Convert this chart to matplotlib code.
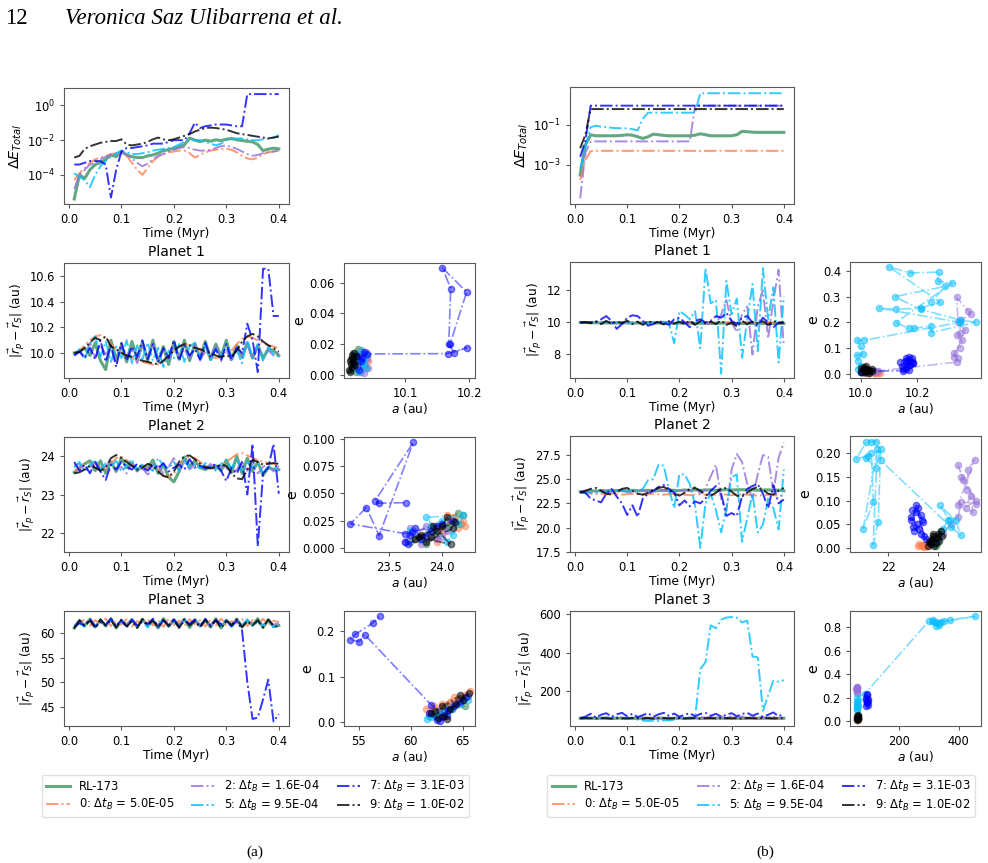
import numpy as np
import matplotlib.pyplot as plt
from matplotlib.ticker import NullLocator, FormatStrFormatter

W, H = 988, 863

t = np.arange(1, 41) / 100

names = ['RL-173', r'0: $\Delta t_B$ = 5.0E-05', r'2: $\Delta t_B$ = 1.6E-04',
         r'5: $\Delta t_B$ = 9.5E-04', r'7: $\Delta t_B$ = 3.1E-03', r'9: $\Delta t_B$ = 1.0E-02']
colors = ['seagreen', 'coral', 'mediumpurple', 'deepskyblue', 'blue', 'black']

# ---------------- (a) energy error, log10 values
ea_rl = [-5.38, -4.0, -4.2, -3.7, -3.4, -3.3, -3.1, -2.85, -2.95, -2.65, -2.85, -2.95, -3.0, -3.0, -2.9, -2.85, -2.75, -2.6, -2.55, -2.46,
         -2.38, -2.27, -1.88, -2.0, -2.08, -2.0, -2.06, -1.98, -2.02, -1.95, -1.9, -1.98, -2.02, -2.06, -2.1, -2.25, -2.6, -2.52, -2.46, -2.5]
ea_0 = [-4.3, -3.9, -3.6, -3.3, -3.1, -3.0, -2.9, -2.8, -2.75, -2.7, -2.9, -3.3, -3.7, -4.0, -3.6, -3.2, -2.95, -2.8, -2.7, -2.65,
        -2.6, -2.6, -2.75, -3.0, -2.85, -2.7, -2.6, -2.55, -2.5, -2.5, -2.55, -2.7, -2.9, -3.05, -3.1, -3.0, -2.8, -2.7, -2.65, -2.6]
ea_2 = [-4.8, -4.0, -3.7, -3.4, -3.3, -3.1, -2.95, -2.85, -2.8, -2.7, -2.85, -3.05, -3.3, -3.5, -3.35, -3.1, -2.9, -2.8, -2.65, -2.55,
        -2.45, -2.4, -2.45, -2.55, -2.6, -2.6, -2.55, -2.45, -2.35, -2.3, -2.4, -2.5, -2.65, -2.8, -2.9, -2.85, -2.75, -2.7, -2.65, -2.6]
ea_5 = [-3.9, -4.1, -4.3, -4.7, -4.0, -3.5, -3.2, -2.95, -2.75, -2.6, -2.7, -2.8, -2.8, -2.75, -2.7, -2.6, -2.55, -2.5, -2.45, -2.4,
        -2.25, -2.1, -2.0, -2.0, -2.0, -2.1, -2.2, -2.3, -2.2, -2.0, -1.95, -1.9, -1.9, -1.95, -2.0, -2.0, -1.95, -1.9, -1.85, -1.7]
ea_7 = [-3.4, -3.4, -3.3, -3.2, -3.2, -3.2, -3.4, -5.3, -3.7, -2.65, -2.45, -2.45, -2.4, -2.35, -2.3, -2.2, -2.2, -2.2, -2.1, -2.0,
        -2.0, -2.0, -1.6, -1.0, -1.3, -1.2, -1.15, -1.1, -1.1, -1.1, -1.15, -1.2, -1.2, 0.65, 0.65, 0.65, 0.65, 0.65, 0.65, 0.65]
ea_9 = [-3.0, -2.9, -2.5, -2.35, -2.25, -2.15, -2.1, -2.05, -2.05, -1.95, -2.25, -2.3, -2.25, -2.2, -2.1, -1.95, -1.85, -1.95, -2.0, -1.95,
        -1.85, -1.75, -1.65, -1.5, -1.4, -1.3, -1.28, -1.3, -1.35, -1.4, -1.5, -1.6, -1.65, -1.7, -1.75, -1.8, -1.85, -1.9, -1.85, -1.8]

# ---------------- (a) planet 1 distance
ra1_rl = [10.00, 10.01, 10.04, 9.98, 10.08, 9.94, 9.87, 10.10, 9.95, 10.06, 9.93, 10.09, 9.96, 10.08, 9.94, 10.10, 9.93, 10.05, 9.91, 10.09,
          9.95, 10.10, 9.94, 10.07, 9.96, 10.09, 9.95, 10.07, 9.97, 10.10, 9.95, 10.06, 9.97, 10.08, 9.96, 10.06, 9.96, 10.03, 10.02, 9.98]
ra1_0 = [10.00, 10.02, 10.06, 10.10, 10.13, 10.14, 10.12, 10.07, 10.03, 10.00, 9.98, 9.96, 9.94, 9.93, 9.92, 9.91, 9.91, 9.93, 9.97, 10.01,
         10.05, 10.07, 10.07, 10.05, 10.02, 9.99, 9.97, 9.96, 9.97, 9.99, 10.02, 10.07, 10.11, 10.13, 10.12, 10.10, 10.08, 10.06, 10.05, 10.04]
ra1_2 = [9.99, 10.02, 9.97, 10.08, 9.96, 10.06, 9.99, 10.04, 9.93, 10.07, 9.98, 10.03, 9.92, 10.05, 9.96, 10.07, 9.94, 10.02, 9.95, 10.05,
         9.97, 10.03, 9.96, 10.08, 9.94, 10.02, 9.97, 10.06, 9.95, 10.03, 9.93, 10.05, 9.96, 10.08, 9.95, 10.04, 9.97, 10.02, 9.98, 10.00]
ra1_5 = [9.98, 10.03, 9.95, 10.07, 10.13, 9.97, 10.09, 9.93, 10.05, 9.96, 10.10, 9.92, 10.06, 9.95, 10.08, 9.94, 10.04, 9.89, 10.02, 9.96,
         10.07, 9.93, 10.05, 10.08, 9.95, 10.06, 9.93, 10.04, 9.97, 10.07, 9.95, 10.02, 9.92, 10.10, 9.96, 10.07, 9.94, 10.05, 9.99, 9.97]
ra1_7 = [9.98, 10.01, 9.96, 10.04, 9.95, 10.10, 9.93, 10.06, 9.89, 10.08, 9.94, 10.05, 9.97, 10.10, 9.95, 10.07, 9.93, 10.04, 9.96, 10.10,
         9.94, 10.06, 9.98, 10.03, 9.95, 10.08, 9.96, 10.03, 9.94, 10.07, 9.95, 10.04, 10.00, 10.23, 10.10, 9.85, 10.66, 10.66, 10.29, 10.29]
ra1_9 = [10.00, 10.01, 10.04, 10.08, 10.12, 10.10, 10.13, 10.05, 10.03, 10.00, 9.98, 9.97, 9.95, 9.94, 9.93, 9.92, 9.91, 9.94, 9.98, 10.02,
         10.05, 10.07, 10.06, 10.04, 10.03, 10.01, 10.00, 9.98, 9.97, 9.98, 9.97, 10.02, 10.09, 10.13, 10.15, 10.13, 10.09, 10.06, 10.04, 10.01]

# ---------------- (a) planet 2 distance
ra2_rl = [23.58, 23.70, 23.80, 23.88, 23.62, 23.88, 23.55, 23.85, 23.60, 23.95, 23.70, 23.82, 23.62, 23.75, 23.68, 23.90, 23.55, 23.78, 23.45, 23.33,
          23.60, 23.98, 23.72, 23.88, 23.70, 23.65, 23.72, 23.75, 23.62, 23.90, 23.58, 24.00, 23.55, 23.95, 23.60, 23.85, 23.50, 23.70, 23.65, 23.65]
ra2_0 = [23.60, 23.70, 23.80, 23.85, 23.80, 23.72, 23.65, 23.80, 23.95, 23.98, 23.90, 23.78, 23.70, 23.65, 23.68, 23.72, 23.65, 23.50, 23.45, 23.55,
         23.75, 23.92, 23.98, 23.95, 23.85, 23.75, 23.68, 23.70, 23.78, 23.85, 23.95, 24.05, 24.08, 24.02, 23.95, 23.90, 23.85, 23.82, 23.80, 23.78]
ra2_2 = [23.75, 23.80, 23.62, 23.70, 23.85, 23.60, 23.75, 23.88, 23.65, 23.72, 23.55, 23.80, 23.60, 23.68, 23.52, 23.65, 23.75, 23.55, 23.72, 23.95,
         23.60, 23.85, 23.65, 23.78, 23.70, 23.68, 23.80, 23.62, 23.75, 23.70, 23.52, 23.65, 23.85, 23.62, 23.78, 23.55, 23.72, 23.80, 23.60, 23.75]
ra2_5 = [23.70, 23.85, 23.60, 23.78, 23.90, 23.65, 23.82, 23.72, 23.88, 23.60, 23.75, 23.92, 23.65, 23.80, 23.70, 23.62, 23.95, 23.75, 23.68, 23.85,
         23.62, 23.90, 23.70, 23.78, 23.68, 23.82, 23.72, 23.65, 23.80, 23.90, 23.68, 23.95, 23.60, 23.85, 23.72, 23.80, 23.55, 23.75, 23.70, 23.62]
ra2_7 = [23.85, 23.62, 23.78, 23.55, 23.85, 23.60, 23.38, 23.78, 23.65, 23.85, 23.72, 23.65, 23.80, 23.70, 23.62, 23.78, 23.68, 23.82, 23.60, 23.70,
         23.78, 23.65, 23.92, 23.70, 23.75, 23.68, 23.72, 23.80, 23.62, 23.35, 23.70, 23.55, 23.85, 23.00, 24.32, 21.65, 23.55, 23.70, 24.32, 23.02]
ra2_9 = [23.55, 23.58, 23.65, 23.75, 23.70, 23.62, 23.70, 23.95, 24.03, 23.95, 23.85, 23.75, 23.65, 23.70, 23.80, 23.75, 23.60, 23.48, 23.45, 23.60,
         23.85, 24.00, 24.02, 23.92, 23.80, 23.72, 23.68, 23.72, 23.78, 23.75, 23.55, 23.42, 23.40, 23.65, 23.90, 23.85, 23.78, 23.80, 23.82, 23.80]

# ---------------- (a) planet 3 distance
ra3_rl = [61.0, 62.5, 61.5, 62.8, 61.2, 62.6, 61.4, 62.9, 61.0, 62.5, 61.6, 62.7, 61.2, 62.8, 61.5, 62.4, 61.0, 62.9, 61.3, 62.6,
          61.5, 62.8, 61.1, 62.7, 61.4, 62.5, 61.2, 62.9, 61.0, 62.6, 61.5, 62.8, 61.2, 62.4, 61.6, 62.9, 61.1, 62.7, 61.3, 61.5]
ra3_0 = [61.2, 62.0, 62.8, 61.5, 62.6, 61.8, 62.9, 61.4, 62.5, 61.7, 62.8, 61.3, 62.4, 61.9, 62.7, 61.5, 62.6, 61.2, 62.9, 61.6,
         62.5, 61.4, 62.8, 61.8, 62.6, 61.3, 62.7, 61.5, 62.9, 61.6, 62.4, 61.9, 62.8, 61.4, 62.6, 61.5, 62.9, 61.7, 62.5, 62.2]
ra3_2 = [61.5, 62.5, 61.8, 62.8, 61.4, 62.2, 61.9, 62.7, 61.5, 62.4, 61.7, 62.8, 61.3, 62.5, 61.9, 62.6, 61.6, 62.8, 61.4, 62.3,
         61.8, 62.7, 61.5, 62.6, 61.7, 62.4, 61.3, 62.8, 61.6, 62.5, 61.8, 62.7, 61.4, 62.6, 61.9, 62.3, 61.5, 62.8, 61.7, 62.0]
ra3_5 = [61.5, 62.0, 61.2, 62.6, 61.3, 62.4, 61.6, 62.7, 61.2, 62.5, 61.4, 62.8, 61.5, 62.3, 61.1, 62.6, 61.6, 62.7, 61.3, 62.4,
         61.2, 62.8, 61.5, 62.5, 61.7, 62.6, 61.3, 62.4, 61.5, 62.7, 61.2, 62.5, 61.6, 62.8, 61.4, 62.3, 61.5, 62.6, 61.2, 61.6]
ra3_7 = [61.2, 62.0, 61.5, 62.8, 61.3, 62.2, 61.6, 62.9, 61.4, 62.6, 61.1, 62.7, 61.5, 62.3, 61.8, 62.9, 61.2, 62.5, 61.6, 62.8,
         61.3, 62.4, 61.9, 62.7, 61.2, 62.9, 61.5, 62.6, 61.8, 62.2, 61.4, 62.5, 60.5, 50.0, 42.5, 42.8, 46.5, 50.5, 42.0, 43.5]
ra3_9 = [60.9, 62.6, 61.4, 62.5, 61.0, 62.8, 61.5, 62.6, 61.1, 62.7, 61.3, 62.4, 61.0, 62.8, 61.6, 62.5, 61.2, 62.7, 61.4, 62.6,
         61.0, 62.8, 61.5, 62.4, 61.2, 62.7, 61.3, 62.6, 61.0, 62.5, 61.6, 62.8, 61.2, 62.4, 61.5, 62.6, 61.1, 62.7, 61.4, 61.3]

# ---------------- (a) a-e planes
aa1_rl = [10.015, 10.02, 10.025, 10.03, 10.035, 10.022, 10.028, 10.018, 10.032, 10.026, 10.038, 10.02]
ea1_rl = [0.003, 0.008, 0.012, 0.015, 0.005, 0.002, 0.010, 0.014, 0.007, 0.017, 0.011, 0.004]
aa1_0 = [10.025, 10.03, 10.04, 10.035, 10.042, 10.028, 10.038, 10.033]
ea1_0 = [0.010, 0.015, 0.012, 0.006, 0.009, 0.016, 0.004, 0.013]
aa1_2 = [10.03, 10.035, 10.04, 10.042, 10.038, 10.033, 10.028, 10.036]
ea1_2 = [0.002, 0.006, 0.010, 0.004, 0.015, 0.008, 0.012, 0.001]
aa1_5 = [10.02, 10.025, 10.03, 10.035, 10.04, 10.028, 10.033, 10.022, 10.038, 10.026]
ea1_5 = [0.005, 0.011, 0.016, 0.009, 0.013, 0.002, 0.007, 0.014, 0.004, 0.010]
aa1_7 = [10.02, 10.025, 10.03, 10.035, 10.028, 10.032, 10.04, 10.166, 10.196, 10.176, 10.168, 10.171, 10.158, 10.196, 10.17]
ea1_7 = [0.006, 0.012, 0.009, 0.015, 0.003, 0.011, 0.0135, 0.0137, 0.0176, 0.0143, 0.0202, 0.0561, 0.0696, 0.0539, 0.020]
aa1_9 = [10.012, 10.015, 10.018, 10.02, 10.014, 10.017, 10.022, 10.013, 10.019, 10.016, 10.021, 10.015]
ea1_9 = [0.003, 0.007, 0.011, 0.014, 0.009, 0.005, 0.012, 0.002, 0.008, 0.013, 0.006, 0.010]

aa2_rl = [23.7, 23.8, 23.9, 24.0, 24.1, 24.2, 23.85, 23.95, 24.05, 24.15, 23.75, 24.18]
ea2_rl = [0.005, 0.010, 0.015, 0.020, 0.025, 0.030, 0.003, 0.012, 0.018, 0.032, 0.008, 0.022]
aa2_0 = [23.8, 23.9, 24.0, 24.1, 24.2, 23.95, 24.05, 24.15, 24.22]
ea2_0 = [0.010, 0.020, 0.015, 0.028, 0.025, 0.005, 0.030, 0.018, 0.020]
aa2_2 = [23.65, 23.75, 23.85, 23.95, 24.05, 23.7, 23.8, 24.0]
ea2_2 = [0.005, 0.012, 0.020, 0.008, 0.015, 0.018, 0.003, 0.010]
aa2_5 = [23.7, 23.8, 23.9, 24.0, 24.1, 24.2, 23.85, 24.05, 24.15]
ea2_5 = [0.015, 0.008, 0.020, 0.025, 0.012, 0.030, 0.028, 0.005, 0.022]
aa2_7 = [23.65, 23.7, 23.75, 23.8, 23.9, 24.0, 23.68, 23.85, 23.95, 24.1, 23.72, 23.65, 23.14, 23.29, 23.41, 23.73, 23.37, 23.41, 23.66]
ea2_7 = [0.005, 0.012, 0.018, 0.008, 0.015, 0.022, 0.003, 0.010, 0.020, 0.025, 0.014, 0.013, 0.022, 0.037, 0.011, 0.097, 0.043, 0.041, 0.0415]
aa2_9 = [23.75, 23.8, 23.9, 24.0, 24.05, 24.1, 23.85, 23.95, 24.12, 23.78, 24.08, 23.92]
ea2_9 = [0.008, 0.012, 0.010, 0.020, 0.028, 0.018, 0.005, 0.015, 0.024, 0.010, 0.003, 0.020]

aa3_rl = [61.8, 62.5, 63.2, 63.8, 64.4, 65.0, 65.5, 62.2, 64.0, 65.2]
ea3_rl = [0.015, 0.025, 0.030, 0.038, 0.045, 0.050, 0.060, 0.020, 0.030, 0.035]
aa3_0 = [61.5, 62.3, 63.0, 63.8, 64.5, 65.2, 65.7, 62.0, 64.2]
ea3_0 = [0.030, 0.035, 0.040, 0.045, 0.050, 0.060, 0.068, 0.025, 0.055]
aa3_2 = [62.0, 62.8, 63.5, 64.2, 65.0, 65.5, 63.0]
ea3_2 = [0.020, 0.025, 0.030, 0.040, 0.050, 0.058, 0.015]
aa3_5 = [61.6, 62.4, 63.2, 64.0, 64.8, 65.5, 62.0, 63.6]
ea3_5 = [0.008, 0.015, 0.020, 0.030, 0.040, 0.050, 0.012, 0.025]
aa3_7 = [61.8, 62.5, 63.0, 63.6, 64.2, 64.8, 65.3, 62.8, 63.5, 62.0, 55.6, 55.06, 54.2, 54.7, 56.4, 57.1]
ea3_7 = [0.020, 0.005, 0.012, 0.028, 0.035, 0.045, 0.055, 0.003, 0.015, 0.038, 0.192, 0.177, 0.181, 0.193, 0.218, 0.234]
aa3_9 = [62.0, 62.6, 63.2, 63.8, 64.4, 65.0, 65.6, 62.4, 63.5, 64.8, 63.0]
ea3_9 = [0.020, 0.010, 0.015, 0.030, 0.040, 0.050, 0.065, 0.025, 0.008, 0.060, 0.035]

# ---------------- (b) energy error, log10 values
eb_rl = [-3.5, -2.0, -1.5, -1.55, -1.55, -1.55, -1.55, -1.55, -1.53, -1.5, -1.52, -1.6, -1.68, -1.6, -1.47, -1.5, -1.53, -1.55, -1.55, -1.55,
         -1.55, -1.55, -1.52, -1.45, -1.5, -1.55, -1.55, -1.55, -1.55, -1.55, -1.5, -1.33, -1.35, -1.37, -1.38, -1.38, -1.38, -1.38, -1.38, -1.38]
eb_0 = [-3.75, -2.75, -2.32] + [-2.3] * 37
eb_2 = [-4.67, -2.4, -1.85] + [-1.83] * 19 + [-0.05] * 18
eb_5 = [-3.2, -2.1, -1.12, -1.05, -1.1, -1.12, -1.15, -1.17, -1.18, -1.18, -1.22, -1.28, -0.7] + [-0.4] * 10 + [0.57] * 17
eb_7 = [-2.6, -1.8] + [-0.05] * 38
eb_9 = [-2.17, -1.5] + [-0.22] * 38

# ---------------- (b) planet 1 distance
rb1_rl = [10.0, 10.0, 9.99, 9.98, 9.97, 9.98, 9.97, 9.96, 9.97, 9.98, 9.96, 9.97, 9.96, 9.95, 9.96, 9.97, 9.95, 9.96, 9.95, 9.96,
          9.95, 9.96, 9.95, 9.96, 9.95, 9.94, 9.95, 9.96, 9.95, 9.94, 9.95, 9.94, 9.95, 9.94, 9.95, 9.94, 9.95, 9.94, 9.95, 9.94]
rb1_0 = [10.02, 10.0, 10.03, 9.98, 10.04, 9.97, 10.03, 9.98, 10.04, 9.97, 10.02, 9.99, 10.03, 9.97, 10.04, 9.98, 10.02, 9.97, 10.03, 9.99,
         10.04, 9.97, 10.02, 9.98, 10.03, 9.99, 10.04, 9.97, 10.02, 9.98, 10.03, 9.97, 10.02, 9.99, 10.04, 9.97, 10.03, 9.98, 10.02, 9.99]
rb1_2 = [10.0, 10.02, 9.98, 10.03, 9.97, 10.02, 9.98, 10.03, 9.97, 10.02, 9.95, 10.05, 9.96, 10.04, 9.98, 10.02, 9.97, 10.05, 9.95, 10.03,
         9.97, 10.05, 9.95, 10.1, 9.9, 9.95, 9.9, 10.5, 11.4, 10.0, 9.4, 10.5, 11.0, 8.0, 11.0, 12.0, 9.0, 11.4, 13.3, 8.5]
rb1_5 = [10.0, 10.01, 9.98, 10.0, 10.02, 9.99, 10.0, 9.97, 10.03, 10.0, 9.98, 10.02, 10.0, 9.97, 10.03, 9.99, 10.05, 9.95,
         8.7, 10.7, 10.5, 10.2, 10.7, 8.4, 13.4, 11.2, 11.4, 6.8, 12.6, 10.5, 11.5, 7.8, 10.2, 12.4, 8.2, 13.4, 10.2, 12.2, 7.5, 11.6]
rb1_7 = [10.0, 10.0, 10.02, 10.05, 10.2, 10.4, 10.1, 9.6, 9.9, 10.3, 10.45, 10.4, 10.1, 9.8, 9.9, 10.1, 10.0, 9.85, 10.2, 10.3,
         10.0, 9.7, 10.1, 10.2, 10.0, 10.1, 10.4, 10.3, 10.6, 10.1, 9.9, 10.3, 10.4, 10.0, 9.8, 10.3, 10.0, 9.7, 10.0, 10.0]
rb1_9 = [10.0, 10.02, 9.95, 10.05, 9.9, 10.1, 9.92, 10.08, 9.95, 10.12, 9.9, 10.05, 9.85, 10.1, 9.95, 10.03, 9.88, 10.08, 9.92, 10.05,
         9.9, 10.1, 9.85, 10.08, 9.95, 10.05, 9.9, 10.12, 9.85, 10.0, 9.75, 10.1, 9.9, 10.05, 9.95, 10.08, 9.85, 10.1, 9.95, 10.0]

# ---------------- (b) planet 2 distance
rb2_rl = [23.7, 23.75, 23.8, 23.78, 23.82, 23.8, 23.85, 23.8, 23.82, 23.78, 23.85, 23.8, 23.82, 23.85, 23.8, 23.85, 23.82, 23.88, 23.85, 23.82,
          23.88, 23.85, 23.9, 23.85, 23.88, 23.9, 23.85, 23.88, 23.92, 23.88, 23.9, 23.92, 23.88, 23.9, 23.85, 23.88, 23.9, 23.85, 23.88, 23.8]
rb2_0 = [23.6, 23.55, 23.5, 23.45, 23.5, 23.45, 23.5, 23.45, 23.4, 23.45, 23.5, 23.45, 23.4, 23.45, 23.5, 23.45, 23.4, 23.45, 23.5, 23.45,
         23.4, 23.35, 23.4, 23.45, 23.4, 23.35, 23.4, 23.45, 23.4, 23.35, 23.4, 23.45, 23.4, 23.35, 23.3, 23.35, 23.4, 23.35, 23.3, 23.3]
rb2_2 = [23.7, 23.8, 23.6, 23.75, 23.9, 23.7, 23.6, 23.8, 23.9, 23.7, 23.6, 23.8, 23.9, 23.7, 23.65, 23.8, 23.9, 23.7, 23.6, 23.8,
         23.9, 23.8, 24.2, 23.5, 24.0, 25.3, 26.5, 23.0, 21.7, 26.0, 27.6, 26.8, 24.5, 23.0, 25.5, 27.5, 27.3, 23.6, 27.2, 28.8]
rb2_5 = [23.6, 23.65, 23.7, 23.6, 23.65, 23.7, 23.8, 23.9, 23.8, 23.7, 23.85, 23.8, 24.0, 24.9, 25.0, 26.5, 26.4, 24.0, 22.0, 25.5,
         25.5, 24.5, 22.3, 17.9, 22.5, 23.5, 21.8, 19.5, 22.0, 25.2, 25.5, 18.5, 21.0, 23.5, 19.5, 20.3, 23.0, 22.0, 19.8, 26.0]
rb2_7 = [23.7, 23.6, 23.0, 22.8, 22.6, 23.5, 24.0, 23.2, 22.5, 21.3, 22.3, 21.1, 23.0, 23.5, 23.8, 24.2, 24.4, 24.0, 23.6, 22.3,
         22.8, 22.2, 22.7, 22.5, 23.0, 23.8, 24.3, 23.5, 21.2, 21.5, 21.2, 23.2, 24.0, 24.3, 24.5, 23.5, 22.0, 24.4, 22.5, 22.9]
rb2_9 = [23.6, 23.8, 24.0, 24.1, 23.8, 23.5, 23.4, 23.7, 24.0, 24.1, 23.8, 23.5, 23.4, 23.6, 23.9, 24.1, 24.2, 23.9, 23.5, 23.3,
         23.6, 24.0, 24.1, 23.8, 23.4, 23.3, 23.6, 24.0, 24.1, 23.7, 23.3, 23.2, 23.6, 24.0, 24.2, 23.9, 23.5, 23.4, 23.8, 24.1]

# ---------------- (b) planet 3 distance
rb3_rl = [62, 61, 63, 61, 62, 63, 61, 62, 63, 61, 62, 61, 63, 62, 61, 63, 62, 61, 62, 63,
          61, 62, 63, 61, 62, 61, 63, 62, 61, 63, 62, 61, 62, 63, 61, 62, 63, 61, 62, 62]
rb3_0 = [62, 63, 61, 62, 63, 61, 62, 61, 63, 62, 61, 63, 62, 61, 62, 63, 61, 62, 63, 61,
         62, 61, 63, 62, 61, 63, 62, 61, 62, 63, 61, 62, 63, 61, 62, 61, 63, 62, 61, 62]
rb3_2 = [62, 63, 61, 64, 60, 65, 62, 66, 60, 64, 58, 66, 56, 64, 55, 63, 54, 62, 56, 64,
         60, 66, 62, 68, 64, 70, 60, 72, 58, 74, 62, 72, 60, 70, 64, 68, 62, 70, 60, 66]
rb3_5 = [62, 60, 62, 58, 62, 60, 62, 58, 60, 62, 58, 55, 50, 48, 50, 48, 52, 50, 55, 58,
         60, 62, 62, 315, 350, 540, 525, 570, 580, 583, 580, 555, 565, 380, 375, 100, 180, 255, 250, 258]
rb3_7 = [62, 70, 85, 65, 80, 88, 70, 82, 90, 72, 85, 68, 78, 88, 70, 82, 90, 75, 86, 70,
         80, 88, 72, 84, 90, 75, 85, 70, 80, 88, 72, 84, 90, 75, 86, 70, 80, 92, 72, 85]
rb3_9 = [61, 63, 62, 61, 63, 62, 60, 63, 62, 61, 63, 62, 61, 63, 60, 62, 63, 61, 62, 63,
         61, 62, 63, 60, 62, 63, 61, 62, 63, 61, 62, 60, 63, 62, 61, 63, 62, 61, 62, 62]

# ---------------- (b) a-e planes
ab1_rl = [10.00, 10.01, 10.02, 10.03, 10.01, 10.02, 10.04, 10.02, 10.03, 10.01, 10.02, 10.05, 10.03, 10.02]
eb1_rl = [0.005, 0.010, 0.008, 0.012, 0.015, 0.004, 0.010, 0.018, 0.006, 0.012, 0.020, 0.008, 0.014, 0.010]
ab1_0 = [10.01, 10.03, 10.05, 10.06, 10.04, 10.02, 10.05, 10.07, 10.03, 10.06]
eb1_0 = [0.002, 0.004, 0.003, 0.006, 0.008, 0.005, 0.002, 0.004, 0.007, 0.003]
ab1_2 = [10.01, 10.03, 10.02, 10.04, 10.05, 10.06, 10.34, 10.345, 10.33, 10.35, 10.36, 10.34, 10.35, 10.356, 10.39, 10.38, 10.34, 10.345, 10.37, 10.33]
eb1_2 = [0.005, 0.010, 0.015, 0.008, 0.012, 0.010, 0.045, 0.059, 0.080, 0.100, 0.130, 0.150, 0.160, 0.209, 0.233, 0.244, 0.298, 0.200, 0.170, 0.065]
ab1_5 = [10.00, 10.01, 9.99, 10.02, 10.0, 9.99, 9.986, 10.007, 10.0, 9.988, 10.013, 10.35, 10.066, 10.125, 10.212, 10.282,
         10.1, 10.176, 10.278, 10.272, 10.324, 10.124, 10.172, 10.188, 10.25, 10.25, 10.407, 10.35, 10.213, 10.12, 10.30, 10.25]
eb1_5 = [0.005, 0.010, 0.020, 0.012, 0.030, 0.050, 0.072, 0.075, 0.107, 0.130, 0.130, 0.200, 0.255, 0.251, 0.255, 0.278,
         0.416, 0.392, 0.396, 0.360, 0.353, 0.199, 0.176, 0.176, 0.186, 0.160, 0.200, 0.210, 0.250, 0.300, 0.340, 0.280]
ab1_7 = [10.00, 10.01, 10.15, 10.16, 10.17, 10.18, 10.16, 10.14, 10.17, 10.185, 10.16, 10.17, 10.145, 10.18, 10.165, 10.17, 10.16, 10.175, 10.15, 10.185]
eb1_7 = [0.005, 0.008, 0.012, 0.020, 0.035, 0.050, 0.060, 0.045, 0.065, 0.040, 0.025, 0.055, 0.030, 0.062, 0.045, 0.015, 0.050, 0.035, 0.020, 0.040]
ab1_9 = [10.00, 10.01, 10.02, 10.03, 10.01, 10.02, 10.04, 10.02, 10.03, 10.01, 10.03, 10.02, 10.00, 10.04]
eb1_9 = [0.005, 0.012, 0.020, 0.015, 0.025, 0.008, 0.018, 0.028, 0.010, 0.020, 0.004, 0.016, 0.022, 0.012]

ab2_rl = [23.6, 23.8, 24.0, 23.9, 23.7, 24.1, 23.85, 24.0, 23.75, 24.1, 23.9, 23.95]
eb2_rl = [0.010, 0.020, 0.025, 0.005, 0.015, 0.030, 0.008, 0.020, 0.012, 0.035, 0.018, 0.010]
ab2_0 = [23.2, 23.3, 23.4, 23.5, 23.35, 23.45, 23.6, 23.25, 23.55, 23.4]
eb2_0 = [0.005, 0.004, 0.006, 0.005, 0.007, 0.003, 0.006, 0.008, 0.004, 0.005]
ab2_2 = [23.8, 24.0, 24.2, 24.5, 24.8, 24.93, 25.53, 24.8, 25.0, 25.16, 25.2, 25.47, 24.8, 25.4, 25.3, 25.1, 25.5, 24.9]
eb2_2 = [0.010, 0.020, 0.030, 0.050, 0.066, 0.097, 0.094, 0.175, 0.143, 0.122, 0.165, 0.187, 0.090, 0.075, 0.110, 0.085, 0.100, 0.150]
ab2_5 = [23.8, 24.0, 24.2, 24.4, 24.47, 24.07, 24.7, 24.9, 24.5, 21.7, 21.53, 21.33, 21.13, 20.73, 21.2, 21.33, 21.4, 21.0, 21.56, 21.4, 21.6, 21.7, 21.5, 21.1]
eb2_5 = [0.010, 0.020, 0.040, 0.060, 0.059, 0.090, 0.059, 0.027, 0.045, 0.185, 0.225, 0.225, 0.225, 0.189, 0.194, 0.200, 0.097, 0.041, 0.210, 0.006, 0.055, 0.210, 0.170, 0.190]
ab2_7 = [23.7, 23.5, 23.3, 23.0, 22.9, 23.1, 23.2, 22.95, 23.3, 23.4, 23.05, 23.15, 22.9, 23.25, 23.45, 23.1, 23.35]
eb2_7 = [0.010, 0.020, 0.030, 0.045, 0.060, 0.075, 0.085, 0.080, 0.070, 0.055, 0.035, 0.050, 0.065, 0.040, 0.025, 0.090, 0.060]
ab2_9 = [23.6, 23.7, 23.8, 23.9, 24.0, 23.75, 23.85, 24.1, 23.65, 23.95, 24.05, 23.8, 23.7, 24.15]
eb2_9 = [0.005, 0.015, 0.025, 0.010, 0.030, 0.020, 0.005, 0.035, 0.012, 0.022, 0.015, 0.030, 0.008, 0.025]

ab3_rl = [61, 62, 63, 62.5]
eb3_rl = [0.02, 0.03, 0.04, 0.025]
ab3_0 = [62, 63, 61]
eb3_0 = [0.01, 0.02, 0.015]
ab3_2 = [58, 59, 60, 58.5, 59.5, 60.5, 57.5, 59]
eb3_2 = [0.25, 0.27, 0.29, 0.28, 0.26, 0.24, 0.27, 0.29]
ab3_5 = [60, 61, 59, 62, 60, 58, 61, 63, 59, 85, 300, 320, 335, 315, 350, 330, 370, 455, 340, 325, 310]
eb3_5 = [0.09, 0.10, 0.12, 0.13, 0.15, 0.14, 0.16, 0.18, 0.20, 0.23, 0.85, 0.84, 0.82, 0.86, 0.85, 0.83, 0.86, 0.89, 0.84, 0.81, 0.85]
ab3_7 = [90, 92, 95, 93, 91, 96, 94, 92, 95, 90]
eb3_7 = [0.13, 0.16, 0.19, 0.22, 0.20, 0.17, 0.15, 0.23, 0.14, 0.18]
ab3_9 = [60, 61, 62, 63, 61.5, 62.5, 60.5, 63.5]
eb3_9 = [0.01, 0.03, 0.05, 0.02, 0.04, 0.015, 0.045, 0.03]

TICK = 8.3
LAB = 8.8
RLAB = r'$|\vec{r}_p - \vec{r}_S|$ (au)'

fig = plt.figure(figsize=(W / 100, H / 100), dpi=100)


def box(l, tp, r, b):
    return [l / W, 1 - b / H, (r - l) / W, (b - tp) / H]


def style(ax):
    for s in ax.spines.values():
        s.set_color('0.35')
        s.set_linewidth(0.8)
    ax.tick_params(labelsize=TICK, length=3, width=0.8, color='0.35')


def line_style(i):
    if i == 0:
        return dict(ls='-', lw=2.2, alpha=0.75)
    return dict(ls='-.', lw=1.4, alpha=0.8)


def time_axes(rect, series, ylim, yticks, title=None, ylabel=RLAB, log=False):
    ax = fig.add_axes(box(*rect))
    for i, (y, c) in enumerate(zip(series, colors)):
        y = 10 ** np.array(y) if log else y
        ax.plot(t, y, color=c, label=names[i], **line_style(i))
    if log:
        ax.set_yscale('log')
    ax.set_xlim(-0.0095, 0.4195)
    ax.set_ylim(*ylim)
    ax.set_xticks([0.0, 0.1, 0.2, 0.3, 0.4])
    ax.set_yticks(yticks)
    if log:
        ax.yaxis.set_minor_locator(NullLocator())
    ax.set_xlabel('Time (Myr)', fontsize=LAB, labelpad=1)
    ax.set_ylabel(ylabel, fontsize=LAB + (1.5 if log else 0), labelpad=2)
    if title:
        ax.set_title(title, fontsize=10, pad=5)
    style(ax)
    return ax


def ae_axes(rect, a_list, e_list, xlim, ylim, xticks, yticks, yfmt, xfmt=None):
    ax = fig.add_axes(box(*rect))
    for i, (a, e, c) in enumerate(zip(a_list, e_list, colors)):
        ls = '-' if i == 0 else '-.'
        ax.plot(a, e, ls=ls, marker='o', color=c, alpha=0.5, ms=4.5, lw=1.2)
    ax.set_xlim(*xlim)
    ax.set_ylim(*ylim)
    ax.set_xticks(xticks)
    ax.set_yticks(yticks)
    ax.yaxis.set_major_formatter(FormatStrFormatter(yfmt))
    if xfmt:
        ax.xaxis.set_major_formatter(FormatStrFormatter(xfmt))
    ax.set_xlabel(r'$a$ (au)', fontsize=LAB, labelpad=1)
    ax.set_ylabel('e', fontsize=LAB + 1.5, labelpad=2)
    style(ax)
    return ax


# ---------------- panel (a)
time_axes((64, 88, 289, 204), [ea_rl, ea_0, ea_2, ea_5, ea_7, ea_9], (10 ** -5.67, 10 ** 1.0),
          [1e-4, 1e-2, 1e0], ylabel=r'$\Delta E_{Total}$', log=True)
time_axes((64, 263, 289, 378), [ra1_rl, ra1_0, ra1_2, ra1_5, ra1_7, ra1_9], (9.804, 10.705),
          [10.0, 10.2, 10.4, 10.6], title='Planet 1')
time_axes((64, 437, 289, 552), [ra2_rl, ra2_0, ra2_2, ra2_5, ra2_7, ra2_9], (21.5, 24.5),
          [22, 23, 24], title='Planet 2')
time_axes((64, 611, 289, 726), [ra3_rl, ra3_0, ra3_2, ra3_5, ra3_7, ra3_9], (41.08, 64.46),
          [45, 50, 55, 60], title='Planet 3')
ae_axes((344, 263, 475, 378), [aa1_rl, aa1_0, aa1_2, aa1_5, aa1_7, aa1_9], [ea1_rl, ea1_0, ea1_2, ea1_5, ea1_7, ea1_9],
        (10.004, 10.209), (-0.0022, 0.0728), [10.1, 10.2], [0, 0.02, 0.04, 0.06], '%.2f', '%.1f')
ae_axes((344, 437, 475, 552), [aa2_rl, aa2_0, aa2_2, aa2_5, aa2_7, aa2_9], [ea2_rl, ea2_0, ea2_2, ea2_5, ea2_7, ea2_9],
        (23.08, 24.31), (-0.004, 0.102), [23.5, 24.0], [0, 0.025, 0.05, 0.075, 0.1], '%.3f', '%.1f')
ae_axes((344, 611, 475, 726), [aa3_rl, aa3_0, aa3_2, aa3_5, aa3_7, aa3_9], [ea3_rl, ea3_0, ea3_2, ea3_5, ea3_7, ea3_9],
        (53.6, 66.2), (-0.008, 0.244), [55, 60, 65], [0, 0.1, 0.2], '%.1f')

# ---------------- panel (b)
axb = time_axes((570, 87, 794, 204), [eb_rl, eb_0, eb_2, eb_5, eb_7, eb_9], (10 ** -4.95, 10 ** 0.88),
                [1e-3, 1e-1], ylabel=r'$\Delta E_{Total}$', log=True)
time_axes((570, 262, 794, 378), [rb1_rl, rb1_0, rb1_2, rb1_5, rb1_7, rb1_9], (6.53, 13.78),
          [8, 10, 12], title='Planet 1')
time_axes((570, 436, 794, 552), [rb2_rl, rb2_0, rb2_2, rb2_5, rb2_7, rb2_9], (17.47, 29.47),
          [17.5, 20.0, 22.5, 25.0, 27.5], title='Planet 2')
time_axes((570, 611, 794, 726), [rb3_rl, rb3_0, rb3_2, rb3_5, rb3_7, rb3_9], (22, 614),
          [200, 400, 600], title='Planet 3')
ae_axes((850, 262, 981, 378), [ab1_rl, ab1_0, ab1_2, ab1_5, ab1_7, ab1_9], [eb1_rl, eb1_0, eb1_2, eb1_5, eb1_7, eb1_9],
        (9.962, 10.426), (-0.017, 0.435), [10.0, 10.2], [0, 0.1, 0.2, 0.3, 0.4], '%.1f', '%.1f')
ae_axes((850, 436, 981, 552), [ab2_rl, ab2_0, ab2_2, ab2_5, ab2_7, ab2_9], [eb2_rl, eb2_0, eb2_2, eb2_5, eb2_7, eb2_9],
        (20.47, 25.72), (-0.0085, 0.2367), [22, 24], [0, 0.05, 0.1, 0.15, 0.2], '%.2f')
ae_axes((850, 611, 981, 726), [ab3_rl, ab3_0, ab3_2, ab3_5, ab3_7, ab3_9], [eb3_rl, eb3_0, eb3_2, eb3_5, eb3_7, eb3_9],
        (36, 475), (-0.042, 0.936), [200, 400], [0, 0.2, 0.4, 0.6, 0.8], '%.1f')

# ---------------- legends
handles, labels = axb.get_legend_handles_labels()
for cx in (255.5, 761):
    fig.legend(handles, labels, ncol=3, loc='center', bbox_to_anchor=(cx / W, 1 - 796 / H),
               fontsize=8.3, frameon=True, edgecolor='0.85', fancybox=True,
               columnspacing=1.5, handlelength=2.0, borderpad=0.4, labelspacing=0.3)

# ---------------- page text
serif = 'Liberation Serif'
fig.text(5 / W, 1 - 24 / H, '12', family=serif, fontsize=16.5, va='baseline')
fig.text(65 / W, 1 - 24 / H, 'Veronica Saz Ulibarrena et al.', family=serif, style='italic', fontsize=16.5, va='baseline')
fig.text(255 / W, 1 - 852 / H, '(a)', family=serif, fontsize=11, ha='center', va='center')
fig.text(765 / W, 1 - 852 / H, '(b)', family=serif, fontsize=11, ha='center', va='center')

fig.savefig('out.png', dpi=100)
